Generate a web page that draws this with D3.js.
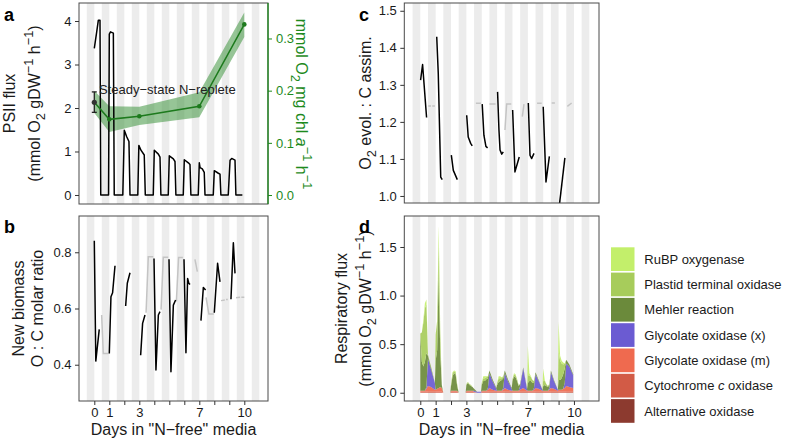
<!DOCTYPE html>
<html><head><meta charset="utf-8">
<script src="https://cdn.jsdelivr.net/npm/d3@7"></script>
<style>body{margin:0;background:#fff}</style>
</head><body><svg id="c" width="785" height="442"></svg>
<script>
// ---------------- DATA ----------------
const dayTicks = [0,1,2,3,4,5,6,7,8,9,10];
const dayTickLabels = ["0","1","","3","","","","7","","","10"];
const darkStarts = [-0.5,0.5,1.5,2.5,3.5,4.5,5.5,6.5,7.5,8.5,9.5,10.5];

// a: PSII flux (left axis)
const psiiT = [0,0.16,0.27,0.38,0.43, 0.95,1.0,1.08,1.27,1.33, 1.9,2.0,2.16,2.31,2.38, 2.9,2.97,3.11,3.33,3.4,
  3.93,4.0,4.27,4.38,4.44, 4.93,5.0,5.27,5.38,5.44, 5.93,6.0,6.27,6.38,6.44, 6.93,7.0,7.05,7.2,7.33,7.38,
  7.93,8.0,8.27,8.38,8.44, 8.93,9.05,9.16,9.38,9.44, 9.87];
const psiiV = [3.37,3.75,4.02,4.02,0, 0,3.7,3.75,3.72,0, 0,1.49,1.34,1.23,0, 0,1.14,1.03,0.92,0,
  0,1.03,0.94,0.87,0, 0,0.9,0.83,0.77,0, 0,0.81,0.74,0.7,0, 0,0.74,0.63,0.6,0.52,0,
  0,0.56,0.5,0.48,0, 0,0.8,0.84,0.8,0, 0];
// a: chlorophyll-specific O2 evolution (right axis)
const chlT  = [0, 1, 3, 7, 10];
const chlV  = [0.178, 0.145, 0.151, 0.170, 0.327];
const chlLo = [0.157, 0.121, 0.134, 0.149, 0.303];
const chlHi = [0.200, 0.170, 0.169, 0.197, 0.350];
// a: steady-state N-replete PSII flux
const ssT = [0], ssV = [2.13], ssLo = [1.9], ssHi = [2.37];
const ssLabel = "Steady\u2212state N\u2212replete";

// b: new biomass O:C molar ratio
const ocBlack = [
  [[0,0.841],[0.1,0.413],[0.33,0.526]],
  [[1.0,0.44],[1.11,0.642],[1.22,0.656],[1.38,0.752]],
  [[2.09,0.609],[2.2,0.69],[2.38,0.727]],
  [[3.09,0.434],[3.22,0.547],[3.38,0.577]],
  [[3.98,0.778],[4.11,0.381],[4.27,0.577],[4.38,0.589]],
  [[4.98,0.775],[5.11,0.375],[5.27,0.612],[5.42,0.630]],
  [[5.98,0.775],[6.11,0.443],[6.22,0.707],[6.3,0.69],[6.38,0.685]],
  [[7.11,0.557],[7.27,0.675],[7.42,0.666]],
  [[8.0,0.585],[8.22,0.761],[8.38,0.695]],
  [[9.11,0.633],[9.27,0.834],[9.38,0.725]]
];
const ocGrey = [
  [[0.49,0.577],[0.6,0.44],[0.93,0.44]],
  [[3.45,0.585],[3.6,0.784],[3.93,0.784]],
  [[4.45,0.596],[4.6,0.782],[4.93,0.782]],
  [[5.47,0.625],[5.62,0.781],[5.9,0.781]],
  [[6.71,0.775],[6.87,0.731]],
  [[7.45,0.64],[7.64,0.58],[7.97,0.58]],
  [[8.45,0.628],[8.7,0.63]],[[8.78,0.632],[8.9,0.632]],
  [[9.45,0.638],[9.72,0.64]],[[9.8,0.64],[10.0,0.64]]
];

// c: O2 evolution : C assimilation
const o2cBlack = [
  [[0.02,1.313],[0.15,1.355],[0.41,1.212]],
  [[1.07,1.43],[1.17,1.331],[1.33,1.051],[1.43,1.044]],
  [[2.02,1.11],[2.15,1.069],[2.41,1.044]],
  [[3.02,1.218],[3.12,1.159],[3.28,1.142],[3.38,1.135]],
  [[4.03,1.248],[4.14,1.164],[4.27,1.134],[4.38,1.13]],
  [[5.03,1.281],[5.12,1.178],[5.19,1.124],[5.3,1.113],[5.4,1.119]],
  [[6.01,1.232],[6.16,1.065],[6.44,1.105]],
  [[7.03,1.251],[7.14,1.11],[7.25,1.101],[7.4,1.115]],
  [[8.0,1.241],[8.18,1.038],[8.4,1.107]],
  [[8.98,0.95],[9.41,1.103]]
];
const o2cGrey = [
  [[0.52,1.243],[0.7,1.243]],[[0.78,1.243],[0.95,1.243]],
  [[3.62,1.25],[3.95,1.25]],
  [[4.5,1.248],[4.9,1.248]],
  [[5.51,1.178],[5.62,1.248],[5.92,1.248]],
  [[6.64,1.214],[6.75,1.248]],
  [[7.6,1.25],[7.9,1.25]],
  [[8.55,1.251],[8.76,1.251]],
  [[9.57,1.242],[9.85,1.251]]
];

// d: respiratory fluxes, sampled at these offsets within each day 0..9
const respDays = [0,1,2,3,4,5,6,7,8,9];
const respOffsets = [0,0.1,0.2,0.3,0.4,0.5,0.7,0.95];
const rubp = [
  0,0,0.03,0.05,0.05,0,0,0,   0,0.01,0.17,0.04,0,0,0,0,   0,0.01,0.01,0.01,0,0,0,0,   0,0,0,0,0,0,0,0,
  0,0.02,0.02,0.01,0,0,0,0,   0,0.02,0.02,0.01,0,0,0,0,   0,0.01,0.01,0,0,0,0,0,      0.3,0.02,0.01,0,0,0,0,0,
  0.12,0.01,0,0,0,0,0,0,      0.3,0.05,0.03,0.02,0,0,0,0];
const ptox = [
  0,0.3,0.45,0.55,0.5,0.01,0.01,0,   0.27,0.3,0.3,0.2,0,0,0,0,   0.02,0.03,0.02,0.02,0.02,0,0,0,   0.01,0.01,0.01,0.01,0,0,0,0,
  0.02,0.03,0.03,0.02,0.02,0,0,0,    0.02,0.04,0.03,0.02,0.02,0,0,0,   0.02,0.02,0.02,0.02,0.01,0,0,0,   0.08,0.06,0.04,0.03,0.02,0,0,0,
  0.06,0.04,0.02,0.01,0.01,0,0,0,    0.3,0.2,0.15,0.1,0.05,0,0,0];
const mehler = [
  0.59,0.3,0.25,0.3,0.35,0.03,0.02,0,   0.3,0.4,1.2,0.35,0.03,0,0,0,   0.05,0.15,0.18,0.17,0.05,0,0,0,   0.06,0.08,0.06,0.05,0.04,0.02,0,0,
  0.06,0.1,0.1,0.12,0.1,0.03,0.02,0.01,   0.06,0.09,0.1,0.11,0.1,0.03,0.02,0.01,   0.1,0.15,0.14,0.1,0.05,0.02,0.01,0.01,
  0.08,0.1,0.1,0.08,0.05,0.02,0.01,0,     0.05,0.06,0.05,0.04,0.03,0.02,0.01,0,    0.1,0.1,0.12,0.15,0.15,0.04,0.02,0.01];
const glyx = [
  0,0,0,0,0.02,0.28,0.18,0.07,   0,0,0,0,0,0,0,0,   0,0,0,0,0,0,0,0,   0,0,0,0,0,0.01,0.01,0.01,
  0,0,0,0,0.02,0.15,0.09,0.02,   0,0,0,0,0.02,0.15,0.09,0.02,   0,0,0,0,0,0.04,0.2,0.01,   0,0,0,0,0.02,0.14,0.08,0.01,
  0,0,0,0,0.02,0.16,0.08,0.01,   0,0,0,0,0.05,0.23,0.21,0.13];
const glym = [
  0.01,0.01,0.01,0.01,0.03,0.06,0.05,0.02,   0.02,0.03,0.04,0.05,0.04,0,0,0,   0.01,0.01,0.01,0.01,0.01,0,0,0,   0.01,0.01,0.01,0.01,0.01,0.005,0,0,
  0.01,0.01,0.01,0.01,0.02,0.04,0.02,0.01,   0.01,0.01,0.01,0.01,0.02,0.04,0.02,0.01,   0.01,0.01,0.01,0.01,0.01,0.02,0.04,0.01,
  0.01,0.01,0.01,0.01,0.02,0.04,0.03,0.01,   0.01,0.01,0.01,0.01,0.02,0.04,0.03,0.01,   0.02,0.02,0.02,0.03,0.04,0.06,0.05,0.04];
const cytc = [
  0.01,0.01,0.01,0.01,0.01,0.01,0.01,0.01,   0.01,0.01,0.01,0.01,0.01,0,0,0,   0.01,0.01,0.01,0.01,0.01,0,0,0,   0.01,0.01,0.01,0.01,0.01,0.005,0,0,
  0.01,0.01,0.01,0.01,0.01,0.01,0.01,0.01,   0.01,0.01,0.01,0.01,0.01,0.01,0.01,0.01,   0.01,0.01,0.01,0.01,0.01,0.01,0.01,0.01,
  0.01,0.01,0.01,0.01,0.01,0.01,0.01,0.01,   0.01,0.01,0.01,0.01,0.01,0.01,0.01,0.01,   0.01,0.01,0.01,0.01,0.01,0.01,0.01,0.01];
const aox = [
  0,0,0,0,0,0,0,0,  0,0,0,0,0,0,0,0,  0,0,0,0,0,0,0,0,  0,0,0,0,0,0,0,0,  0,0,0,0,0,0,0,0,
  0,0,0,0,0,0,0,0,  0,0,0,0,0,0,0,0,  0,0,0,0,0,0,0,0,  0,0,0,0,0,0,0,0,  0,0,0,0,0,0,0,0];
const legendLabels = ["RuBP oxygenase","Plastid terminal oxidase","Mehler reaction","Glycolate oxidase (x)",
  "Glycolate oxidase (m)","Cytochrome c oxidase","Alternative oxidase"];
const legendKeys = ["rubp","ptox","mehler","glyx","glym","cytc","aox"];
const legendColors = ["#c3ef6b","#a7cc5b","#6b8a3b","#6b5bd2","#ef6a4f","#d25b46","#8c3a2f"];

// ---------------- DRAW ----------------
const FONT = "'Liberation Sans', Arial, Helvetica, sans-serif";
const svg = d3.select("#c").attr("font-family", FONT);
const PA = {l:79, r:268, t:3, b:204}, PB = {l:79, r:268, t:216, b:401};
const PC = {l:404.3, r:599, t:3, b:203}, PD = {l:404.3, r:599, t:216, b:401};

const xL = d3.scaleLinear().domain([-1.02, 11.58]).range([PA.l, PA.r]);
const xR = d3.scaleLinear().domain([-1.04, 11.63]).range([PC.l, PC.r]);
const yA = d3.scaleLinear().domain([-0.207, 4.414]).range([PA.b, PA.t]);
const yA2 = d3.scaleLinear().domain([-0.0172, 0.368]).range([PA.b, PA.t]);
const yB = d3.scaleLinear().domain([0.271, 0.929]).range([PB.b, PB.t]);
const yC = d3.scaleLinear().domain([0.981, 1.521]).range([PC.b, PC.t]);
const yD = d3.scaleLinear().domain([-0.085, 1.819]).range([PD.b, PD.t]);

let clipN = 0;
function panel(P, x) {
  const id = "clip" + (clipN++);
  svg.append("clipPath").attr("id", id).append("rect")
    .attr("x", P.l).attr("y", P.t).attr("width", P.r - P.l).attr("height", P.b - P.t);
  const g = svg.append("g").attr("clip-path", `url(#${id})`);
  g.selectAll("rect.stripe").data(darkStarts).join("rect").attr("class","stripe")
    .attr("x", d => x(d)).attr("width", d => x(d + 0.5) - x(d))
    .attr("y", P.t).attr("height", P.b - P.t).attr("fill", "#ececec");
  return g;
}
function frame(P, col) {
  svg.append("rect").attr("x", P.l).attr("y", P.t).attr("width", P.r - P.l).attr("height", P.b - P.t)
    .attr("fill", "none").attr("stroke", col || "#4a4a4a").attr("stroke-width", 1);
}
function styleAxis(g, col) {
  g.attr("font-family", FONT).attr("font-size", 13);
  g.select(".domain").remove();
  g.selectAll("line").attr("stroke", col || "#333");
  g.selectAll("text").attr("fill", col || "#1a1a1a");
}
function yAxisLeft(P, y, vals, fmt) {
  const g = svg.append("g").attr("transform", `translate(${P.l},0)`)
    .call(d3.axisLeft(y).tickValues(vals).tickFormat(fmt).tickSize(4).tickPadding(3.5));
  styleAxis(g);
}
function xAxisBottom(P, x) {
  const g = svg.append("g").attr("transform", `translate(0,${P.b})`)
    .call(d3.axisBottom(x).tickValues(dayTicks).tickFormat((d, i) => dayTickLabels[i]).tickSize(4).tickPadding(3));
  styleAxis(g);
}
function rich(sel, parts, fs) {
  let shift = 0;
  parts.forEach(p => {
    const target = p.sub ? fs * 0.3 : p.sup ? -fs * 0.42 : 0;
    const ts = sel.append("tspan").text(p.t).attr("dy", target - shift);
    if (p.sub || p.sup) ts.attr("font-size", fs * 0.8);
    if (p.it) ts.attr("font-style", "italic");
    shift = target;
  });
}
function vTitle(x, y, parts, rot, col) {
  const t = svg.append("text").attr("transform", `translate(${x},${y}) rotate(${rot || -90})`)
    .attr("text-anchor", "middle").attr("font-size", 16).attr("fill", col || "#1a1a1a");
  rich(t, parts, 16);
}
const unitParts = [{t:"(mmol O"},{t:"2",sub:true},{t:" gDW"},{t:"\u22121",sup:true},{t:" h"},{t:"\u22121",sup:true},{t:")"}];
const line = d3.line().x(d => d[0]).y(d => d[1]);

// ----- panel a -----
{
  const g = panel(PA, xL);
  const area = d3.area().x((d, i) => xL(chlT[i])).y0((d, i) => yA2(chlLo[i])).y1((d, i) => yA2(chlHi[i]));
  g.append("path").attr("d", area(chlT)).attr("fill", "#2e8b2e").attr("fill-opacity", 0.5);
  g.append("path").attr("d", line(psiiT.map((t, i) => [xL(t), yA(psiiV[i])])))
    .attr("fill", "none").attr("stroke", "#000").attr("stroke-width", 1.5).attr("stroke-linejoin", "round");
  g.append("path").attr("d", line(chlT.map((t, i) => [xL(t), yA2(chlV[i])])))
    .attr("fill", "none").attr("stroke", "#1d7a1d").attr("stroke-width", 1.5);
  g.selectAll("circle.g").data(chlT.slice(1)).join("circle").attr("class","g")
    .attr("cx", d => xL(d)).attr("cy", (d, i) => yA2(chlV[i + 1])).attr("r", 2.3).attr("fill", "#1d7a1d");
  ssT.forEach((t, i) => {
    const cx = xL(t);
    g.append("line").attr("x1", cx).attr("x2", cx).attr("y1", yA(ssLo[i])).attr("y2", yA(ssHi[i])).attr("stroke", "#222").attr("stroke-width", 1.3);
    [ssLo[i], ssHi[i]].forEach(v => g.append("line").attr("x1", cx - 2.5).attr("x2", cx + 2.5)
      .attr("y1", yA(v)).attr("y2", yA(v)).attr("stroke", "#222").attr("stroke-width", 1.3));
    g.append("circle").attr("cx", cx).attr("cy", yA(ssV[i])).attr("r", 2.6).attr("fill", "#333");
  });
  svg.append("text").attr("x", xL(4.87)).attr("y", 93.5).attr("text-anchor", "middle")
    .attr("font-size", 13).attr("fill", "#222").text(ssLabel);
  frame(PA);
  yAxisLeft(PA, yA, [0,1,2,3,4], d3.format("d"));
  const gr = svg.append("g").attr("transform", `translate(${PA.r},0)`)
    .call(d3.axisRight(yA2).tickValues([0,0.1,0.2,0.3]).tickFormat(d3.format(".1f")).tickSize(4).tickPadding(4));
  styleAxis(gr, "#1d8a1d");
  svg.append("line").attr("x1", PA.r).attr("x2", PA.r).attr("y1", PA.t).attr("y2", PA.b)
    .attr("stroke", "#1d8a1d").attr("stroke-width", 1.3);
  vTitle(15, 103.5, [{t:"PSII flux"}]);
  vTitle(40, 103.5, unitParts);
  vTitle(296, 104, [{t:"mmol O"},{t:"2",sub:true},{t:" mg chl "},{t:"a",it:true},{t:"\u22121",sup:true},{t:" h"},{t:"\u22121",sup:true}], 90, "#1d8a1d");
}

// ----- panel b -----
{
  const g = panel(PB, xL);
  g.selectAll("path.gr").data(ocGrey).join("path").attr("class","gr")
    .attr("d", s => line(s.map(p => [xL(p[0]), yB(p[1])])))
    .attr("fill", "none").attr("stroke", "#c4c4c4").attr("stroke-width", 1.5);
  g.selectAll("path.bk").data(ocBlack).join("path").attr("class","bk")
    .attr("d", s => line(s.map(p => [xL(p[0]), yB(p[1])])))
    .attr("fill", "none").attr("stroke", "#000").attr("stroke-width", 1.5).attr("stroke-linejoin", "round");
  frame(PB);
  yAxisLeft(PB, yB, [0.4,0.6,0.8], d3.format(".1f"));
  xAxisBottom(PB, xL);
  vTitle(24, 308.5, [{t:"New biomass"}]);
  vTitle(43, 308.5, [{t:"O : C molar ratio"}]);
  svg.append("text").attr("x", (PB.l + PB.r) / 2).attr("y", 435).attr("text-anchor", "middle")
    .attr("font-size", 16).attr("fill", "#1a1a1a").text("Days in \"N\u2212free\" media");
}

// ----- panel c -----
{
  const g = panel(PC, xR);
  g.selectAll("path.gr").data(o2cGrey).join("path").attr("class","gr")
    .attr("d", s => line(s.map(p => [xR(p[0]), yC(p[1])])))
    .attr("fill", "none").attr("stroke", "#c4c4c4").attr("stroke-width", 1.5);
  g.selectAll("path.bk").data(o2cBlack).join("path").attr("class","bk")
    .attr("d", s => line(s.map(p => [xR(p[0]), yC(p[1])])))
    .attr("fill", "none").attr("stroke", "#000").attr("stroke-width", 1.5).attr("stroke-linejoin", "round");
  frame(PC);
  yAxisLeft(PC, yC, [1.0,1.1,1.2,1.3,1.4,1.5], d3.format(".1f"));
  vTitle(371, 103, [{t:"O"},{t:"2",sub:true},{t:" evol. : C assim."}]);
}

// ----- panel d -----
{
  const g = panel(PD, xR);
  const series = {rubp, ptox, mehler, glyx, glym, cytc, aox};
  const rows = [];
  respDays.forEach((dd, di) => respOffsets.forEach((o, oi) => {
    const i = di * respOffsets.length + oi;
    const r = {t: dd + o};
    legendKeys.forEach(k => r[k] = series[k][i]);
    rows.push(r);
  }));
  const stackKeys = legendKeys.slice().reverse();
  const stacked = d3.stack().keys(stackKeys)(rows);
  const colorOf = k => legendColors[legendKeys.indexOf(k)];
  const area = d3.area().x(d => xR(d.data.t)).y0(d => yD(d[0])).y1(d => yD(d[1]));
  g.selectAll("path.ar").data(stacked).join("path").attr("class","ar")
    .attr("d", area).attr("fill", d => colorOf(d.key)).attr("fill-opacity", 0.92);
  frame(PD);
  yAxisLeft(PD, yD, [0,0.5,1.0,1.5], d3.format(".1f"));
  xAxisBottom(PD, xR);
  vTitle(347, 308.5, [{t:"Respiratory flux"}]);
  vTitle(371, 308.5, unitParts);
  svg.append("text").attr("x", (PD.l + PD.r) / 2).attr("y", 435).attr("text-anchor", "middle")
    .attr("font-size", 16).attr("fill", "#1a1a1a").text("Days in \"N\u2212free\" media");

  // legend
  const lg = svg.append("g");
  legendLabels.forEach((lab, i) => {
    const y0 = 247.3 + i * 25.3;
    lg.append("rect").attr("x", 611).attr("y", y0).attr("width", 23.5).attr("height", 23.7).attr("fill", legendColors[i]);
    const t = lg.append("text").attr("x", 644.3).attr("y", y0 + 16.5).attr("font-size", 13).attr("fill", "#1a1a1a");
    if (lab.indexOf(" c ") >= 0) {
      t.append("tspan").text("Cytochrome ");
      t.append("tspan").attr("font-style", "italic").text("c");
      t.append("tspan").text(" oxidase");
    } else t.text(lab);
  });
}

// panel letters
[["a",4,21],["b",4,233],["c",359,21],["d",359,233]].forEach(([s, x, y]) =>
  svg.append("text").attr("x", x).attr("y", y).attr("font-size", 18).attr("font-weight", "bold").attr("fill", "#000").text(s));
</script></body></html>
